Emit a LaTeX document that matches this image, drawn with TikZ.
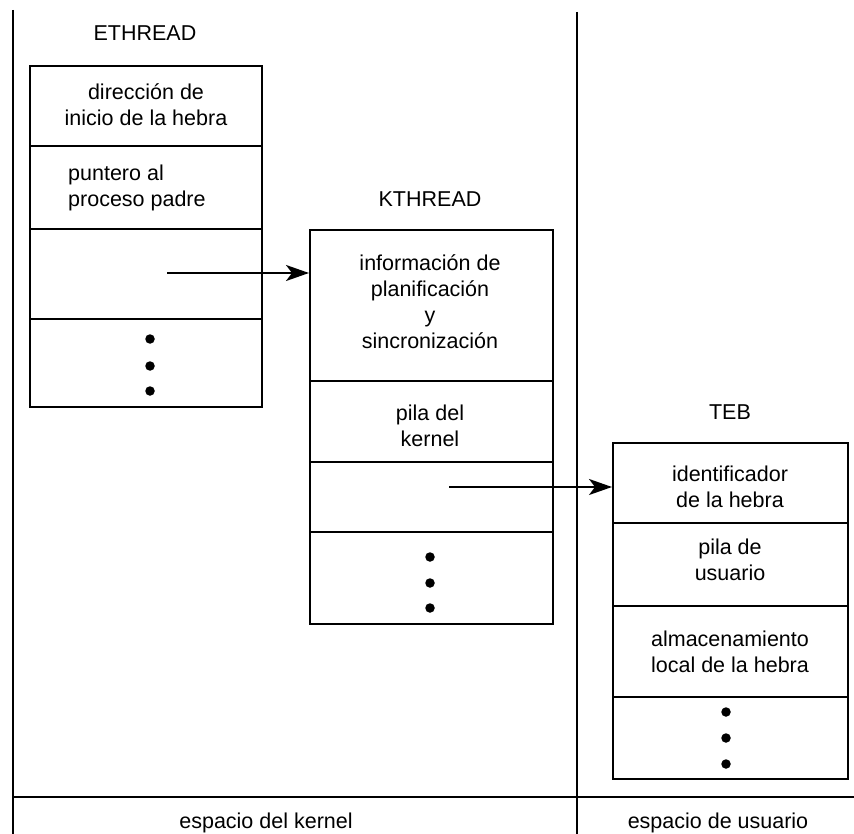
\documentclass[tikz,border=0pt]{standalone}
\usepackage{fontspec}
\setmainfont{Liberation Sans}
\usetikzlibrary{arrows.meta}
\begin{document}
\begin{tikzpicture}[x=1pt,y=-1pt,
  cell/.style={draw, line width=2pt, inner sep=0pt, minimum width=#1},
  lbl/.style={inner sep=0pt, align=center, font=\fontsize{21.5}{26}\selectfont},
  dotn/.style={circle, fill, inner sep=0pt, minimum size=9.5pt},
  sep/.style={line width=1.2pt},
  arr/.style={line width=2pt, -{Stealth[length=23pt,width=16pt,inset=6pt]}}]
\useasboundingbox (0,0) rectangle (854,834);
% separators
\coordinate (l1) at (13,10);
\coordinate (l2) at (13,834);
\coordinate (r1) at (577,12);
\coordinate (r2) at (577,834);
\coordinate (h1) at (13,797);
\coordinate (h2) at (854,797);
\draw[sep] (l1) -- (l2);
\draw[sep] (r1) -- (r2);
\draw[sep] (h1) -- (h2);
% ETHREAD
\node[lbl] (et) at (145,33) {ETHREAD};
\node[cell=232pt, minimum height=80pt] (e1) at (146,106) {};
\node[cell=232pt, minimum height=83pt] (e2) at (146,187.5) {};
\node[cell=232pt, minimum height=90pt] (e3) at (146,274) {};
\node[cell=232pt, minimum height=88pt] (e4) at (146,363) {};
\node[lbl] (e1t) at (146,105) {dirección de\\inicio de la hebra};
\node[lbl, align=left, anchor=west] (e2t) at (68,188) {puntero al\\proceso padre};
\node[dotn] (ed1) at (150,339) {};
\node[dotn] (ed2) at (150,366) {};
\node[dotn] (ed3) at (150,391) {};
% KTHREAD
\node[lbl] (kt) at (430,199) {KTHREAD};
\node[cell=243pt, minimum height=151pt] (k1) at (431.5,305.5) {};
\node[cell=243pt, minimum height=81pt] (k2) at (431.5,421.5) {};
\node[cell=243pt, minimum height=70pt] (k3) at (431.5,497) {};
\node[cell=243pt, minimum height=92pt] (k4) at (431.5,578) {};
\node[lbl] (k1t) at (430,302) {información de\\planificación\\y\\sincronización};
\node[lbl] (k2t) at (430,426) {pila del\\kernel};
\node[dotn] (kd1) at (430,557) {};
\node[dotn] (kd2) at (430,583) {};
\node[dotn] (kd3) at (430,608) {};
% TEB
\node[lbl] (tt) at (730,412) {TEB};
\node[cell=235pt, minimum height=80pt] (t1) at (730.5,483) {};
\node[cell=235pt, minimum height=83pt] (t2) at (730.5,564.5) {};
\node[cell=235pt, minimum height=91pt] (t3) at (730.5,651.5) {};
\node[cell=235pt, minimum height=82pt] (t4) at (730.5,738) {};
\node[lbl] (t1t) at (730,487) {identificador\\de la hebra};
\node[lbl] (t2t) at (730,560) {pila de\\usuario};
\node[lbl] (t3t) at (730,652) {almacenamiento\\local de la hebra};
\node[dotn] (td1) at (726,712) {};
\node[dotn] (td2) at (726,738) {};
\node[dotn] (td3) at (726,764) {};
% arrows
\coordinate (ea) at (167,273);
\coordinate (kb) at (449,487);
\draw[arr] (ea) -- (ea -| k1.west);
\draw[arr] (kb) -- (kb -| t1.west);
% bottom labels
\node[lbl] (bk) at (266,823) {espacio del kernel};
\node[lbl] (bu) at (718,823) {espacio de usuario};
\end{tikzpicture}
\end{document}
